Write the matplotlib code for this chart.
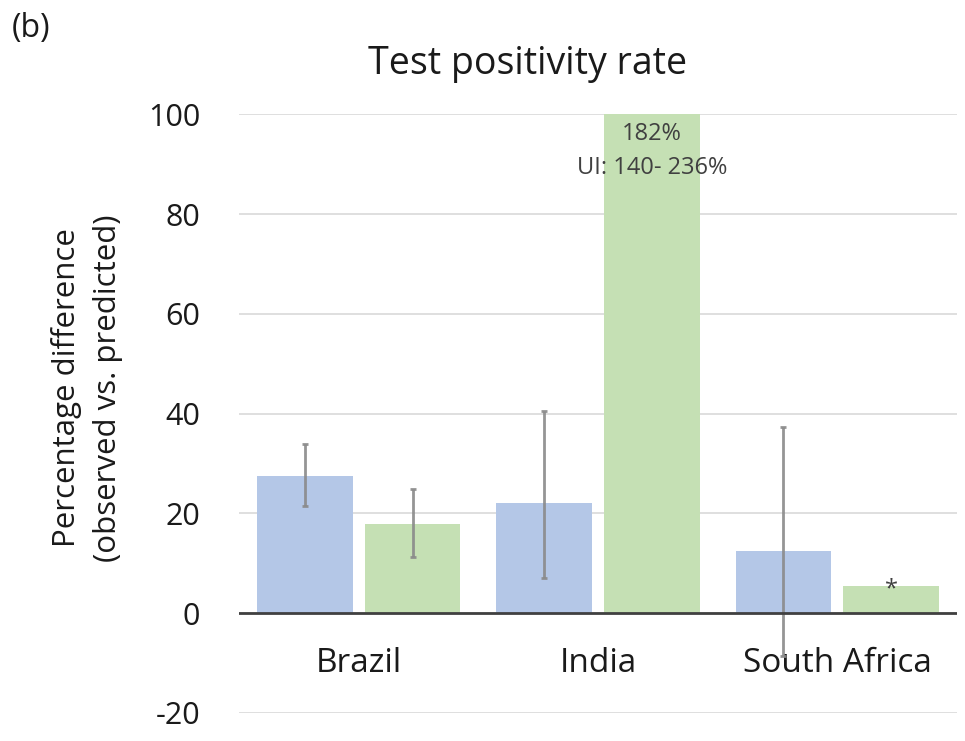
import numpy as np
import matplotlib.pyplot as plt

plt.rcParams['font.family'] = ['Open Sans', 'DejaVu Sans']

# data
countries = ['Brazil', 'India', 'South Africa']
blue_vals = [27.5, 22.0, 12.4]
blue_lo = [21.4, 7.0, -8.5]
blue_hi = [33.9, 40.5, 37.3]
green_vals = [17.8, 182.0, 5.4]
green_lo = [11.2, 140.0, 5.4]
green_hi = [24.8, 236.0, 5.4]
yticks = [-20, 0, 20, 40, 60, 80, 100]

blue = '#B4C7E7'
green = '#C5E0B4'
txt = '#1a1a1a'

fig = plt.figure(figsize=(9.65, 7.41), dpi=100)
ax = fig.add_axes([0.2477, 0.0378, 0.744, 0.808])

x = np.arange(len(countries))
w = 0.40
off = 0.225

ax.bar(x - off, blue_vals, width=w, color=blue, zorder=2)
ax.bar(x + off, green_vals, width=w, color=green, zorder=2)

# error bars (India green runs off the chart, SA green has none)
bv = np.array(blue_vals)
ax.errorbar(x - off, bv, yerr=[bv - np.array(blue_lo), np.array(blue_hi) - bv],
            fmt='none', ecolor='#8a8a8a', elinewidth=2, capsize=2, capthick=2,
            alpha=0.9, zorder=3, clip_on=False)
gv = np.array(green_vals[:1])
ax.errorbar(x[:1] + off, gv, yerr=[gv - np.array(green_lo[:1]), np.array(green_hi[:1]) - gv],
            fmt='none', ecolor='#8a8a8a', elinewidth=2, capsize=2, capthick=2,
            alpha=0.9, zorder=3)

ax.set_xlim(-0.5, 2.5)
ax.set_ylim(-20, 100)
ax.set_yticks(yticks)
ax.set_yticklabels([str(t) for t in yticks], fontsize=22, color=txt)
ax.tick_params(axis='y', length=0, pad=28)
ax.set_xticks([])
for s in ax.spines.values():
    s.set_visible(False)
ax.grid(axis='y', color='#d9d9d9', linewidth=1.2, zorder=0)
ax.set_axisbelow(True)
ax.axhline(0, color='#404040', linewidth=2, zorder=4)

for i, c in enumerate(countries):
    ax.text(x[i], -10, c, ha='center', va='center', fontsize=24, color=txt, zorder=1)

ax.text(x[1] + off, 92.6, '182%\nUI: 140- 236%', ha='center', va='center',
        fontsize=17, color='#404040', linespacing=1.55, zorder=5)
ax.text(x[2] + off, green_vals[2] - 0.6, '*', ha='center', va='center',
        fontsize=17, color='#404040', zorder=5)

fig.text(87 / 965, 1 - 388 / 741, 'Percentage difference\n(observed vs. predicted)',
         rotation=90, ha='center', va='center', fontsize=22.5, color=txt,
         linespacing=1.45, multialignment='center')
fig.text(528 / 965, 1 - 64 / 741, 'Test positivity rate', ha='center', va='center',
         fontsize=27, color=txt)
fig.text(0.012, 0.962, '(b)', fontsize=23, color=txt, va='center')

fig.savefig('out.png', dpi=100)
